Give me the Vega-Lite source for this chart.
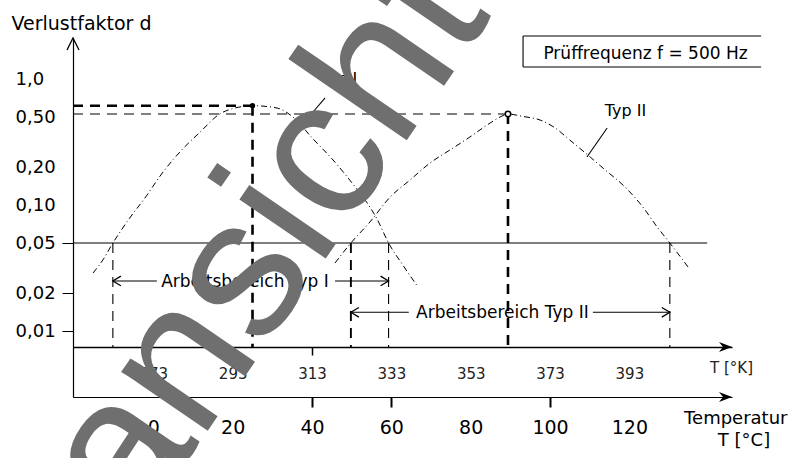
{
  "$schema": "https://vega.github.io/schema/vega-lite/v6.json",
  "width": 659,
  "height": 359,
  "autosize": {"type": "none"},
  "padding": {"left": 73, "top": 38, "right": 59, "bottom": 61},
  "background": "white",
  "config": {
    "view": {"stroke": null},
    "axis": {"grid": false, "domainColor": "black", "labelColor": "black", "labelFont": "DejaVu Sans", "titleFont": "DejaVu Sans", "titleColor": "black", "labelFlush": false, "labelOverlap": false},
    "text": {"font": "DejaVu Sans", "color": "black"}
  },
  "datasets": {
    "kurven": [
      {"typ": "Typ I", "T": -15.2, "d": 0.0289},
      {"typ": "Typ I", "T": -12.4, "d": 0.038},
      {"typ": "Typ I", "T": -10.2, "d": 0.05},
      {"typ": "Typ I", "T": -8.4, "d": 0.0611},
      {"typ": "Typ I", "T": -6.6, "d": 0.074},
      {"typ": "Typ I", "T": -1.6, "d": 0.12},
      {"typ": "Typ I", "T": 1.7, "d": 0.17},
      {"typ": "Typ I", "T": 6.7, "d": 0.264},
      {"typ": "Typ I", "T": 11.8, "d": 0.38},
      {"typ": "Typ I", "T": 16.8, "d": 0.53},
      {"typ": "Typ I", "T": 20.1, "d": 0.584},
      {"typ": "Typ I", "T": 25.0, "d": 0.615},
      {"typ": "Typ I", "T": 31.2, "d": 0.589},
      {"typ": "Typ I", "T": 35.2, "d": 0.5},
      {"typ": "Typ I", "T": 40.3, "d": 0.334},
      {"typ": "Typ I", "T": 45.3, "d": 0.228},
      {"typ": "Typ I", "T": 50.3, "d": 0.147},
      {"typ": "Typ I", "T": 53.9, "d": 0.104},
      {"typ": "Typ I", "T": 56.4, "d": 0.0775},
      {"typ": "Typ I", "T": 59.3, "d": 0.05},
      {"typ": "Typ I", "T": 62.9, "d": 0.0334},
      {"typ": "Typ I", "T": 66.7, "d": 0.0224},
      {"typ": "Typ II", "T": 45.8, "d": 0.0347},
      {"typ": "Typ II", "T": 49.8, "d": 0.05},
      {"typ": "Typ II", "T": 54.6, "d": 0.0734},
      {"typ": "Typ II", "T": 59.7, "d": 0.1159},
      {"typ": "Typ II", "T": 64.7, "d": 0.158},
      {"typ": "Typ II", "T": 69.75, "d": 0.2157},
      {"typ": "Typ II", "T": 74.8, "d": 0.274},
      {"typ": "Typ II", "T": 79.8, "d": 0.347},
      {"typ": "Typ II", "T": 84.9, "d": 0.448},
      {"typ": "Typ II", "T": 87.4, "d": 0.5},
      {"typ": "Typ II", "T": 89.4, "d": 0.528},
      {"typ": "Typ II", "T": 93.2, "d": 0.505},
      {"typ": "Typ II", "T": 97.5, "d": 0.473},
      {"typ": "Typ II", "T": 101.3, "d": 0.409},
      {"typ": "Typ II", "T": 105.0, "d": 0.328},
      {"typ": "Typ II", "T": 110.1, "d": 0.241},
      {"typ": "Typ II", "T": 113.9, "d": 0.19},
      {"typ": "Typ II", "T": 118.4, "d": 0.144},
      {"typ": "Typ II", "T": 123.4, "d": 0.0965},
      {"typ": "Typ II", "T": 127.0, "d": 0.067},
      {"typ": "Typ II", "T": 130.2, "d": 0.05},
      {"typ": "Typ II", "T": 134.8, "d": 0.0322}
    ],
    "linien": [
      {"gruppe": "max_dick", "x1": -20.25, "x2": 25.0, "d1": 0.615, "d2": 0.615},
      {"gruppe": "max_dick", "x1": 25.0, "x2": 25.0, "d1": 0.615, "d2": 0.00747},
      {"gruppe": "max_dick", "x1": 89.4, "x2": 89.4, "d1": 0.528, "d2": 0.00747},
      {"gruppe": "max_duenn", "x1": -20.25, "x2": 89.4, "d1": 0.528, "d2": 0.528},
      {"gruppe": "grenze", "x1": -10.2, "x2": -10.2, "d1": 0.05, "d2": 0.00747},
      {"gruppe": "grenze", "x1": 59.3, "x2": 59.3, "d1": 0.05, "d2": 0.00747},
      {"gruppe": "grenze", "x1": 130.2, "x2": 130.2, "d1": 0.05, "d2": 0.00747},
      {"gruppe": "grenze_mittel", "x1": 49.8, "x2": 49.8, "d1": 0.05, "d2": 0.00747},
      {"gruppe": "schwelle", "x1": -20.25, "x2": 139.6, "d1": 0.05, "d2": 0.05},
      {"gruppe": "bereich", "x1": -10.2, "x2": 0.9, "d1": 0.025, "d2": 0.025},
      {"gruppe": "bereich", "x1": 45.8, "x2": 59.3, "d1": 0.025, "d2": 0.025},
      {"gruppe": "bereich", "x1": 49.8, "x2": 64.4, "d1": 0.0141, "d2": 0.0141},
      {"gruppe": "bereich", "x1": 110.8, "x2": 130.2, "d1": 0.0141, "d2": 0.0141},
      {"gruppe": "zeiger", "x1": 40.25, "x2": 43.3, "d1": 0.548, "d2": 0.708},
      {"gruppe": "zeiger", "x1": 109.3, "x2": 114.4, "d1": 0.241, "d2": 0.409},
      {"gruppe": "rahmen", "x1": 93.2, "x2": 153.2, "d1": 2.197, "d2": 2.197},
      {"gruppe": "rahmen", "x1": 93.2, "x2": 153.2, "d1": 1.247, "d2": 1.247},
      {"gruppe": "rahmen", "x1": 93.2, "x2": 93.2, "d1": 2.197, "d2": 1.247}
    ],
    "maxima": [
      {"typ": "Typ I", "T": 25.0, "d": 0.615},
      {"typ": "Typ II", "T": 89.4, "d": 0.528}
    ],
    "pfeile": [
      {"richtung": "links", "T": -10.2, "d": 0.025},
      {"richtung": "rechts", "T": 59.3, "d": 0.025},
      {"richtung": "links", "T": 49.8, "d": 0.0141},
      {"richtung": "rechts", "T": 130.2, "d": 0.0141}
    ],
    "achsen": [
      {"achse": "K", "T": 145.87, "d": 0.00747},
      {"achse": "C", "T": 145.87, "d": 0.0029976},
      {"achse": "d", "T": -20.25, "d": 2.1184}
    ],
    "texte": [
      {"art": "typ", "T": 46.8, "d": 1.0, "text": "Typ I"},
      {"art": "typ", "T": 119.0, "d": 0.558, "text": "Typ II"},
      {"art": "bereich", "T": 23.1, "d": 0.0247, "text": "Arbeitsbereich Typ I"},
      {"art": "bereich", "T": 88.0, "d": 0.014, "text": "Arbeitsbereich Typ II"},
      {"art": "pruef", "T": 124.07, "d": 1.581, "text": "Prüffrequenz f = 500 Hz"},
      {"art": "einheit_k", "T": 140.33, "d": 0.00509, "text": "T [°K]"},
      {"art": "temperatur", "T": 133.8, "d": 0.002005, "text": "Temperatur"},
      {"art": "einheit_c", "T": 148.9, "d": 0.001341, "text": "T [°C]"},
      {"art": "wasserzeichen", "T": 40.76, "d": 0.02836, "text": "ansicht"}
    ]
  },
  "resolve": {"axis": {"x": "independent", "y": "independent"}},
  "layer": [
    {
      "data": {"name": "kurven"},
      "mark": {"type": "line", "interpolate": "monotone", "color": "black", "strokeWidth": 1, "strokeDash": [6, 3, 1, 3]},
      "encoding": {
        "x": {"field": "T", "type": "quantitative", "scale": {"domain": [-20.25, 145.87], "nice": false, "zero": false},
          "axis": {"orient": "bottom", "values": [0, 20, 40, 60, 80, 100, 120], "title": null, "tickSize": 10, "tickWidth": 2,
            "tickColor": {"condition": {"test": "datum.value == 40 || datum.value == 60 || datum.value == 100", "value": "black"}, "value": "transparent"},
            "labelFontSize": 19, "labelPadding": 11, "domainWidth": 1.2}},
        "y": {"field": "d", "type": "quantitative", "scale": {"type": "log", "domain": [0.0029976, 2.1184], "nice": false},
          "axis": {"orient": "left", "values": [0.01, 0.02, 0.05, 0.1, 0.2, 0.5, 1],
            "labelExpr": "datum.value >= 1 ? '1,0' : replace(format(datum.value, '.2f'), '.', ',')",
            "labelAlign": "left", "labelBaseline": "middle", "labelPadding": 47, "tickSize": 11, "tickWidth": 1,
            "tickColor": {"condition": {"test": "datum.value < 0.06", "value": "black"}, "value": "transparent"},
            "labelFontSize": 18, "domainWidth": 1.2,
            "title": "Verlustfaktor d", "titleAngle": 0, "titleX": -62, "titleY": -15, "titleAlign": "left", "titleBaseline": "middle",
            "titleFontSize": 19, "titleFontWeight": "normal"}},
        "detail": {"field": "typ"}
      }
    },
    {
      "data": {"name": "achsen"},
      "transform": [{"filter": "datum.achse == 'K'"}],
      "mark": {"type": "point", "shape": "M -2.6 -1 L 0 0 L -2.6 1 L -1.8 0 Z", "filled": true, "color": "black", "size": 100, "opacity": 1},
      "encoding": {
        "x": {"field": "T", "type": "quantitative", "scale": {"domain": [-20.25, 145.87], "nice": false, "zero": false},
          "axis": {"orient": "bottom", "offset": -50, "values": [0, 20, 40, 60, 80, 100, 120], "labelExpr": "'' + (datum.value + 273)",
            "title": null, "tickSize": 8, "tickWidth": 1.5,
            "tickColor": {"condition": {"test": "datum.value == 40", "value": "black"}, "value": "transparent"},
            "labelFontSize": 15, "labelPadding": 11, "labelColor": "#222222", "domainWidth": 1.6}},
        "y": {"field": "d", "type": "quantitative", "scale": {"type": "log", "domain": [0.0029976, 2.1184], "nice": false}, "axis": null}
      }
    },
    {
      "data": {"name": "achsen"},
      "transform": [{"filter": "datum.achse == 'C'"}],
      "mark": {"type": "point", "shape": "M -2.6 -1 L 0 0 L -2.6 1 L -1.8 0 Z", "filled": true, "color": "black", "size": 100, "opacity": 1},
      "encoding": {
        "x": {"field": "T", "type": "quantitative", "scale": {"domain": [-20.25, 145.87], "nice": false, "zero": false}, "axis": null},
        "y": {"field": "d", "type": "quantitative", "scale": {"type": "log", "domain": [0.0029976, 2.1184], "nice": false}, "axis": null}
      }
    },
    {
      "data": {"name": "achsen"},
      "transform": [{"filter": "datum.achse == 'd'"}],
      "mark": {"type": "point", "shape": "M -1.2 2.4 L 0 0 L 1.2 2.4", "filled": false, "color": "black", "strokeWidth": 1.3, "size": 100, "opacity": 1},
      "encoding": {
        "x": {"field": "T", "type": "quantitative", "scale": {"domain": [-20.25, 145.87], "nice": false, "zero": false}, "axis": null},
        "y": {"field": "d", "type": "quantitative", "scale": {"type": "log", "domain": [0.0029976, 2.1184], "nice": false}, "axis": null}
      }
    },
    {
      "data": {"name": "linien"},
      "transform": [{"filter": "datum.gruppe == 'max_dick'"}],
      "mark": {"type": "rule", "color": "black", "strokeWidth": 2.6, "strokeDash": [10, 7]},
      "encoding": {
        "x": {"field": "x1", "type": "quantitative", "scale": {"domain": [-20.25, 145.87], "nice": false, "zero": false}, "axis": null},
        "x2": {"field": "x2"},
        "y": {"field": "d1", "type": "quantitative", "scale": {"type": "log", "domain": [0.0029976, 2.1184], "nice": false}, "axis": null},
        "y2": {"field": "d2"}
      }
    },
    {
      "data": {"name": "linien"},
      "transform": [{"filter": "datum.gruppe == 'max_duenn' || datum.gruppe == 'grenze'"}],
      "mark": {"type": "rule", "color": "black", "strokeWidth": 1.1, "strokeDash": [10, 7]},
      "encoding": {
        "x": {"field": "x1", "type": "quantitative", "scale": {"domain": [-20.25, 145.87], "nice": false, "zero": false}, "axis": null},
        "x2": {"field": "x2"},
        "y": {"field": "d1", "type": "quantitative", "scale": {"type": "log", "domain": [0.0029976, 2.1184], "nice": false}, "axis": null},
        "y2": {"field": "d2"}
      }
    },
    {
      "data": {"name": "linien"},
      "transform": [{"filter": "datum.gruppe == 'grenze_mittel'"}],
      "mark": {"type": "rule", "color": "black", "strokeWidth": 1.9, "strokeDash": [10, 7]},
      "encoding": {
        "x": {"field": "x1", "type": "quantitative", "scale": {"domain": [-20.25, 145.87], "nice": false, "zero": false}, "axis": null},
        "x2": {"field": "x2"},
        "y": {"field": "d1", "type": "quantitative", "scale": {"type": "log", "domain": [0.0029976, 2.1184], "nice": false}, "axis": null},
        "y2": {"field": "d2"}
      }
    },
    {
      "data": {"name": "linien"},
      "transform": [{"filter": "datum.gruppe == 'schwelle' || datum.gruppe == 'bereich' || datum.gruppe == 'zeiger' || datum.gruppe == 'rahmen'"}],
      "mark": {"type": "rule", "color": "black", "strokeWidth": 1.1},
      "encoding": {
        "x": {"field": "x1", "type": "quantitative", "scale": {"domain": [-20.25, 145.87], "nice": false, "zero": false}, "axis": null},
        "x2": {"field": "x2"},
        "y": {"field": "d1", "type": "quantitative", "scale": {"type": "log", "domain": [0.0029976, 2.1184], "nice": false}, "axis": null},
        "y2": {"field": "d2"}
      }
    },
    {
      "data": {"name": "pfeile"},
      "transform": [{"filter": "datum.richtung == 'links'"}],
      "mark": {"type": "point", "shape": "M 2 -1.2 L 0 0 L 2 1.2", "filled": false, "color": "black", "strokeWidth": 1.3, "size": 64, "opacity": 1},
      "encoding": {
        "x": {"field": "T", "type": "quantitative", "scale": {"domain": [-20.25, 145.87], "nice": false, "zero": false}, "axis": null},
        "y": {"field": "d", "type": "quantitative", "scale": {"type": "log", "domain": [0.0029976, 2.1184], "nice": false}, "axis": null}
      }
    },
    {
      "data": {"name": "pfeile"},
      "transform": [{"filter": "datum.richtung == 'rechts'"}],
      "mark": {"type": "point", "shape": "M -2 -1.2 L 0 0 L -2 1.2", "filled": false, "color": "black", "strokeWidth": 1.3, "size": 64, "opacity": 1},
      "encoding": {
        "x": {"field": "T", "type": "quantitative", "scale": {"domain": [-20.25, 145.87], "nice": false, "zero": false}, "axis": null},
        "y": {"field": "d", "type": "quantitative", "scale": {"type": "log", "domain": [0.0029976, 2.1184], "nice": false}, "axis": null}
      }
    },
    {
      "data": {"name": "maxima"},
      "transform": [{"filter": "datum.typ == 'Typ I'"}],
      "mark": {"type": "point", "shape": "circle", "filled": true, "color": "black", "size": 28, "opacity": 1},
      "encoding": {
        "x": {"field": "T", "type": "quantitative", "scale": {"domain": [-20.25, 145.87], "nice": false, "zero": false}, "axis": null},
        "y": {"field": "d", "type": "quantitative", "scale": {"type": "log", "domain": [0.0029976, 2.1184], "nice": false}, "axis": null}
      }
    },
    {
      "data": {"name": "maxima"},
      "transform": [{"filter": "datum.typ == 'Typ II'"}],
      "mark": {"type": "point", "shape": "circle", "filled": false, "fill": "white", "fillOpacity": 1, "stroke": "black", "strokeWidth": 1.5, "size": 30, "opacity": 1},
      "encoding": {
        "x": {"field": "T", "type": "quantitative", "scale": {"domain": [-20.25, 145.87], "nice": false, "zero": false}, "axis": null},
        "y": {"field": "d", "type": "quantitative", "scale": {"type": "log", "domain": [0.0029976, 2.1184], "nice": false}, "axis": null}
      }
    },
    {
      "data": {"name": "texte"},
      "transform": [{"filter": "datum.art == 'typ'"}],
      "mark": {"type": "text", "fontSize": 16, "align": "center", "baseline": "middle"},
      "encoding": {
        "x": {"field": "T", "type": "quantitative", "scale": {"domain": [-20.25, 145.87], "nice": false, "zero": false}, "axis": null},
        "y": {"field": "d", "type": "quantitative", "scale": {"type": "log", "domain": [0.0029976, 2.1184], "nice": false}, "axis": null},
        "text": {"field": "text"}
      }
    },
    {
      "data": {"name": "texte"},
      "transform": [{"filter": "datum.art == 'bereich' || datum.art == 'pruef'"}],
      "mark": {"type": "text", "fontSize": 17, "align": "center", "baseline": "middle"},
      "encoding": {
        "x": {"field": "T", "type": "quantitative", "scale": {"domain": [-20.25, 145.87], "nice": false, "zero": false}, "axis": null},
        "y": {"field": "d", "type": "quantitative", "scale": {"type": "log", "domain": [0.0029976, 2.1184], "nice": false}, "axis": null},
        "text": {"field": "text"}
      }
    },
    {
      "data": {"name": "texte"},
      "transform": [{"filter": "datum.art == 'einheit_k'"}],
      "mark": {"type": "text", "fontSize": 15, "align": "left", "baseline": "middle", "color": "#222222"},
      "encoding": {
        "x": {"field": "T", "type": "quantitative", "scale": {"domain": [-20.25, 145.87], "nice": false, "zero": false}, "axis": null},
        "y": {"field": "d", "type": "quantitative", "scale": {"type": "log", "domain": [0.0029976, 2.1184], "nice": false}, "axis": null},
        "text": {"field": "text"}
      }
    },
    {
      "data": {"name": "texte"},
      "transform": [{"filter": "datum.art == 'temperatur'"}],
      "mark": {"type": "text", "fontSize": 18, "align": "left", "baseline": "middle"},
      "encoding": {
        "x": {"field": "T", "type": "quantitative", "scale": {"domain": [-20.25, 145.87], "nice": false, "zero": false}, "axis": null},
        "y": {"field": "d", "type": "quantitative", "scale": {"type": "log", "domain": [0.0029976, 2.1184], "nice": false}, "axis": null},
        "text": {"field": "text"}
      }
    },
    {
      "data": {"name": "texte"},
      "transform": [{"filter": "datum.art == 'einheit_c'"}],
      "mark": {"type": "text", "fontSize": 18, "align": "center", "baseline": "middle"},
      "encoding": {
        "x": {"field": "T", "type": "quantitative", "scale": {"domain": [-20.25, 145.87], "nice": false, "zero": false}, "axis": null},
        "y": {"field": "d", "type": "quantitative", "scale": {"type": "log", "domain": [0.0029976, 2.1184], "nice": false}, "axis": null},
        "text": {"field": "text"}
      }
    },
    {
      "data": {"name": "texte"},
      "transform": [{"filter": "datum.art == 'wasserzeichen'"}],
      "mark": {"type": "text", "font": "Liberation Sans", "fontSize": 198, "angle": -55.6, "align": "center", "baseline": "alphabetic", "color": "#6f6f6f"},
      "encoding": {
        "x": {"field": "T", "type": "quantitative", "scale": {"domain": [-20.25, 145.87], "nice": false, "zero": false}, "axis": null},
        "y": {"field": "d", "type": "quantitative", "scale": {"type": "log", "domain": [0.0029976, 2.1184], "nice": false}, "axis": null},
        "text": {"field": "text"}
      }
    }
  ]
}
